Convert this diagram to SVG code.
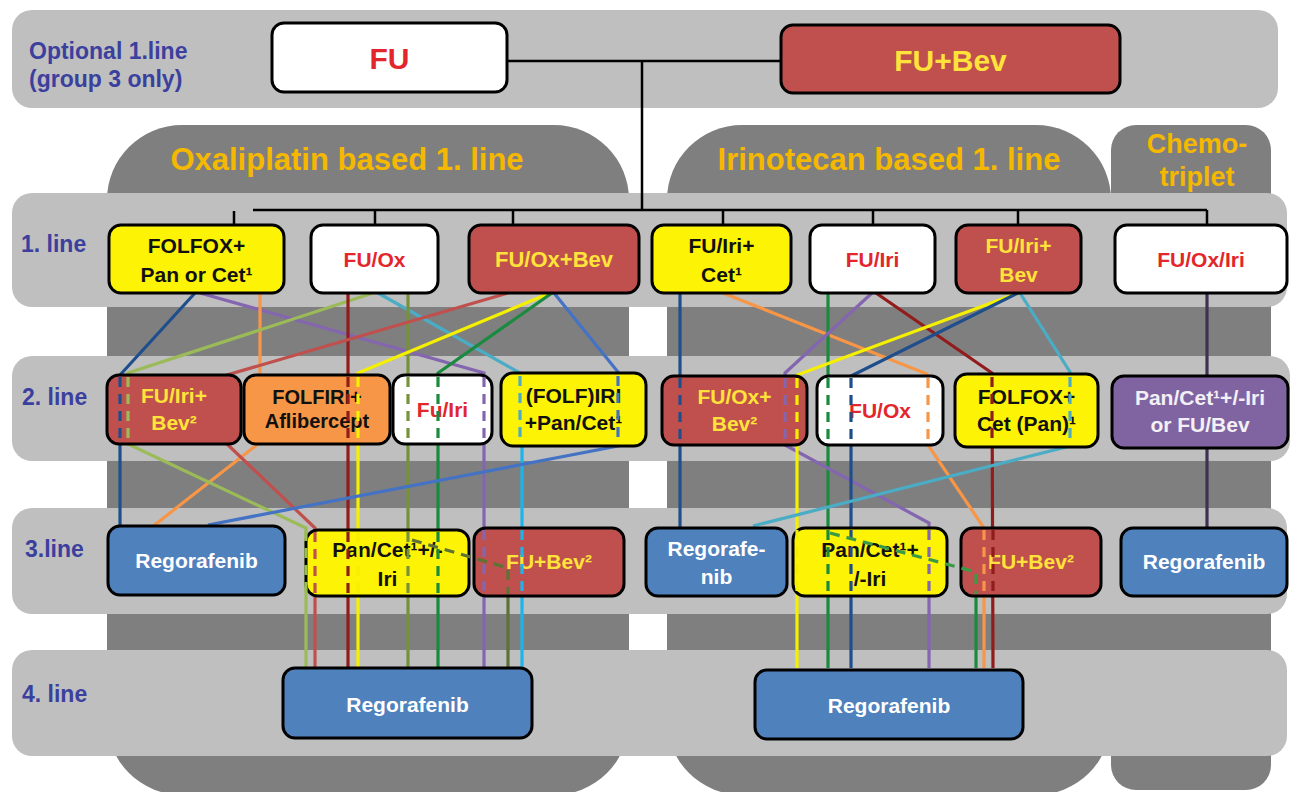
<svg xmlns="http://www.w3.org/2000/svg" width="1290" height="792" viewBox="0 0 1290 792">
<style>
text{font-family:"Liberation Sans",Arial,sans-serif;font-weight:bold;text-anchor:middle}
.region{fill:#7f7f7f}
.band{fill:#bfbfbf}
.b{stroke:#000;stroke-width:3}
.w{fill:#ffffff}.r{fill:#c0504d}.y{fill:#fcf404}.o{fill:#f79646}.bl{fill:#4f81bd}.pu{fill:#8064a2}
.tr{fill:#e3262b}.ty{fill:#ffe33a}.tk{fill:#111}.tw{fill:#ffffff}.tp{fill:#f3f0f6}
.hdr{fill:#f5b800;font-size:31px}
.row{fill:#3b3f9e;font-size:23px;text-anchor:start}
.t21{font-size:21px}.t30{font-size:30px}
.tree{fill:none;stroke:#000;stroke-width:2.5}
.c{fill:none;stroke-width:3.2}
.d{fill:none;stroke-width:3.2;stroke-dasharray:10 7}
.k1{stroke:#1f4e8c}.k2{stroke:#8466b0}.k3{stroke:#f79646}.k4{stroke:#9bbb59}.k5{stroke:#921c1c}
.k6{stroke:#4bacc6}.k6b{stroke:#1cb4ec}.k7{stroke:#76923c}.k8{stroke:#c0504d}.k9{stroke:#f5f000}
.k10{stroke:#1a8a3e}.k11{stroke:#4472c4}.k12{stroke:#5d7235}.k13{stroke:#3f3151}.k14{stroke:#3a9a45}
</style>

<g id="background">
  <rect class="region" x="107" y="125" width="522" height="670" rx="75"/>
  <rect class="region" x="667" y="125" width="444" height="670" rx="75"/>
  <rect class="region" x="1111" y="125" width="160" height="665" rx="25"/>
  <rect class="band" x="12" y="10" width="1266" height="98" rx="20"/>
  <rect class="band" x="12" y="193" width="1275" height="114" rx="20"/>
  <rect class="band" x="12" y="356" width="1278" height="105" rx="20"/>
  <rect class="band" x="12" y="508" width="1275" height="106" rx="20"/>
  <rect class="band" x="12" y="650" width="1275" height="106" rx="20"/>
</g>

<g id="labels">
  <text class="row" x="29" y="59">Optional 1.line</text>
  <text class="row" x="29" y="87">(group 3 only)</text>
  <text class="hdr" x="347" y="170">Oxaliplatin based 1. line</text>
  <text class="hdr" x="889" y="170">Irinotecan based 1. line</text>
  <text class="hdr" x="1197" y="153" style="font-size:27px">Chemo-</text>
  <text class="hdr" x="1197" y="186" style="font-size:27px">triplet</text>
  <text class="row" x="21" y="252">1. line</text>
  <text class="row" x="22" y="405">2. line</text>
  <text class="row" x="25" y="557">3.line</text>
  <text class="row" x="22" y="702">4. line</text>
</g>

<g id="connectors">
  <path class="tree" d="M507 61H781M642 61V210M253 210H1207M234 211V225M375 210V225M513 210V225M723 210V225M873 210V225M1018 210V225M1207 210V225"/>
  <polyline class="c k1" points="195,293 120,375 120,526"/>
  <polyline class="c k2" points="200,293 484,373 484,668"/>
  <polyline class="c k3" points="260,293 260,375 258,444 152,527"/>
  <polyline class="c k4" points="373,293 128,373 128,444 306,528 306,668"/>
  <polyline class="c k5" points="348,293 348,668"/>
  <polyline class="c k6" points="378,293 520,373 520,446"/>
  <polyline class="c k6b" points="522,446 522,668"/>
  <polyline class="c k7" points="408,293 408,668"/>
  <polyline class="c k8" points="508,293 227,375 227,444 315,528 315,668"/>
  <polyline class="c k9" points="550,293 358,373 358,668"/>
  <polyline class="c k10" points="552,293 438,373 438,668"/>
  <polyline class="c k11" points="554,293 618,372 618,446 208,525"/>
  <polyline class="c k12" points="508,596 508,668"/>
  <polyline class="c k1" points="680,293 680,528"/>
  <polyline class="c k3" points="723,293 927,374 928,445 984,528 984,668"/>
  <polyline class="c k10" points="828,293 828,668"/>
  <polyline class="c k2" points="872,293 785,373 785,445 929,523 929,668"/>
  <polyline class="c k5" points="876,293 992,373 993,668"/>
  <polyline class="c k9" points="1018,293 797,375 797,668"/>
  <polyline class="c k1" points="1018,293 851,376 851,668"/>
  <polyline class="c k6" points="1020,293 1070,372 1070,446 753,526"/>
  <polyline class="c k13" points="1207,293 1207,528"/>
  <polyline class="c k10" points="976,596 976,668"/>
</g>

<g id="n_fu"><rect class="b w" x="272" y="23" width="235" height="69" rx="12"/><text class="t30 tr" x="389.5" y="69">FU</text></g>
<g id="n_fubev"><rect class="b r" x="781" y="25" width="339" height="68" rx="12"/><text class="t30 ty" x="950.5" y="71">FU+Bev</text></g>

<g id="n1_folfox_pan"><rect class="b y" x="109" y="225" width="175" height="68" rx="12"/><text class="t21 tk" x="196.5" y="253">FOLFOX+</text><text class="t21 tk" x="196.5" y="282">Pan or Cet¹</text></g>
<g id="n1_fuox"><rect class="b w" x="311" y="225" width="127" height="68" rx="12"/><text class="t21 tr" x="374.5" y="267">FU/Ox</text></g>
<g id="n1_fuoxbev"><rect class="b r" x="469" y="225" width="170" height="68" rx="12"/><text class="ty" style="font-size:22px" x="554" y="267">FU/Ox+Bev</text></g>
<g id="n1_fuiricet"><rect class="b y" x="652" y="225" width="139" height="68" rx="12"/><text class="t21 tk" x="721.5" y="253">FU/Iri+</text><text class="t21 tk" x="721.5" y="282">Cet¹</text></g>
<g id="n1_fuiri"><rect class="b w" x="810" y="225" width="125" height="68" rx="12"/><text class="t21 tr" x="872.5" y="267">FU/Iri</text></g>
<g id="n1_fuiribev"><rect class="b r" x="956" y="225" width="125" height="68" rx="12"/><text class="t21 ty" x="1018.5" y="253">FU/Iri+</text><text class="t21 ty" x="1018.5" y="282">Bev</text></g>
<g id="n1_fuoxiri"><rect class="b w" x="1115" y="225" width="172" height="68" rx="12"/><text class="t21 tr" x="1201" y="267">FU/Ox/Iri</text></g>

<g id="n2_fuiribev"><rect class="b r" x="107" y="375" width="134" height="69" rx="12"/><text class="t21 ty" x="174" y="403">FU/Iri+</text><text class="t21 ty" x="174" y="430">Bev²</text></g>
<g id="n2_folfiri"><rect class="b o" x="244" y="375" width="146" height="69" rx="12"/><text class="tk" style="font-size:20px" x="317" y="404">FOLFIRI+</text><text class="tk" style="font-size:20px" x="317" y="428">Aflibercept</text></g>
<g id="n2_fuiri"><rect class="b w" x="393" y="375" width="99" height="69" rx="12"/><text class="t21 tr" x="442.5" y="417">Fu/Iri</text></g>
<g id="n2_folfiri_pan"><rect class="b y" x="501" y="373" width="145" height="73" rx="12"/><text class="t21 tk" x="573.5" y="403">(FOLF)IRI</text><text class="t21 tk" x="573.5" y="430">+Pan/Cet¹</text></g>
<g id="n2_fuoxbev"><rect class="b r" x="662" y="376" width="145" height="69" rx="12"/><text class="t21 ty" x="734.5" y="404">FU/Ox+</text><text class="t21 ty" x="734.5" y="431">Bev²</text></g>
<g id="n2_fuox"><rect class="b w" x="817" y="376" width="126" height="69" rx="12"/><text class="t21 tr" x="880" y="418">FU/Ox</text></g>
<g id="n2_folfox_cet"><rect class="b y" x="955" y="374" width="143" height="73" rx="12"/><text class="t21 tk" x="1026.5" y="404">FOLFOX+</text><text class="t21 tk" x="1026.5" y="431">Cet (Pan)¹</text></g>
<g id="n2_pan"><rect class="b pu" x="1112" y="376" width="176" height="72" rx="12"/><text class="t21 tp" x="1200" y="405">Pan/Cet¹+/-Iri</text><text class="t21 tp" x="1200" y="432">or FU/Bev</text></g>

<g id="n3_rego_l"><rect class="b bl" x="108" y="526" width="177" height="69" rx="12"/><text class="t21 tw" x="196.5" y="568">Regorafenib</text></g>
<g id="n3_pan_l"><rect class="b y" x="306" y="530" width="163" height="66" rx="12"/><text class="t21 tk" x="387.5" y="557">Pan/Cet¹+/-</text><text class="t21 tk" x="387.5" y="586">Iri</text></g>
<g id="n3_fubev_l"><rect class="b r" x="474" y="528" width="150" height="68" rx="12"/><text class="t21 ty" x="549" y="569">FU+Bev²</text></g>
<g id="n3_rego_m"><rect class="b bl" x="646" y="528" width="141" height="68" rx="12"/><text class="t21 tw" x="716.5" y="556">Regorafe-</text><text class="t21 tw" x="716.5" y="584">nib</text></g>
<g id="n3_pan_r"><rect class="b y" x="793" y="528" width="154" height="68" rx="12"/><text class="t21 tk" x="870" y="557">Pan/Cet¹+</text><text class="t21 tk" x="870" y="586">/-Iri</text></g>
<g id="n3_fubev_r"><rect class="b r" x="961" y="528" width="140" height="68" rx="12"/><text class="t21 ty" x="1031" y="569">FU+Bev²</text></g>
<g id="n3_rego_r"><rect class="b bl" x="1121" y="528" width="166" height="68" rx="12"/><text class="t21 tw" x="1204" y="569">Regorafenib</text></g>

<g id="n4_rego_l"><rect class="b bl" x="283" y="668" width="249" height="70" rx="12"/><text class="t21 tw" x="407.5" y="712">Regorafenib</text></g>
<g id="n4_rego_r"><rect class="b bl" x="755" y="670" width="268" height="69" rx="12"/><text class="t21 tw" x="889" y="713">Regorafenib</text></g>

<g id="connectors-through">
  <line class="d k1" x1="120" y1="377" x2="120" y2="443"/>
  <line class="d k4" x1="128" y1="377" x2="128" y2="443"/>
  <line class="d k5" x1="348" y1="377" x2="348" y2="443"/>
  <line class="d k9" x1="358" y1="377" x2="358" y2="443"/>
  <line class="d k7" x1="408" y1="377" x2="408" y2="443"/>
  <line class="d k10" x1="438" y1="377" x2="438" y2="443"/>
  <line class="d k2" x1="484" y1="377" x2="484" y2="443"/>
  <line class="d k6" x1="520" y1="376" x2="520" y2="444"/>
  <line class="d k11" x1="618" y1="376" x2="618" y2="444"/>
  <line class="d k1" x1="680" y1="378" x2="680" y2="443"/>
  <line class="d k2" x1="785" y1="378" x2="785" y2="443"/>
  <line class="d k9" x1="797" y1="378" x2="797" y2="443"/>
  <line class="d k10" x1="828" y1="378" x2="828" y2="443"/>
  <line class="d k1" x1="851" y1="378" x2="851" y2="443"/>
  <line class="d k3" x1="928" y1="378" x2="928" y2="443"/>
  <line class="d k5" x1="992" y1="377" x2="992" y2="445"/>
  <line class="d k6" x1="1070" y1="377" x2="1070" y2="445"/>
  <line class="d k4" x1="306" y1="531" x2="306" y2="595"/>
  <line class="d k8" x1="315" y1="532" x2="315" y2="594"/>
  <line class="d k5" x1="348" y1="532" x2="348" y2="594"/>
  <line class="d k9" x1="358" y1="532" x2="358" y2="594"/>
  <line class="d k7" x1="408" y1="532" x2="408" y2="594"/>
  <line class="d k10" x1="438" y1="532" x2="438" y2="594"/>
  <polyline class="d k12" points="412,540 508,568 508,594"/>
  <line class="d k2" x1="484" y1="530" x2="484" y2="594"/>
  <line class="d k6b" x1="522" y1="530" x2="522" y2="594"/>
  <line class="d k9" x1="797" y1="530" x2="797" y2="594"/>
  <line class="d k10" x1="828" y1="530" x2="828" y2="594"/>
  <line class="d k1" x1="851" y1="530" x2="851" y2="594"/>
  <line class="d k2" x1="929" y1="530" x2="929" y2="594"/>
  <polyline class="d k14" points="830,533 976,572 976,594"/>
  <line class="d k3" x1="984" y1="530" x2="984" y2="594"/>
  <line class="d k5" x1="993" y1="530" x2="993" y2="594"/>
</g>
</svg>
